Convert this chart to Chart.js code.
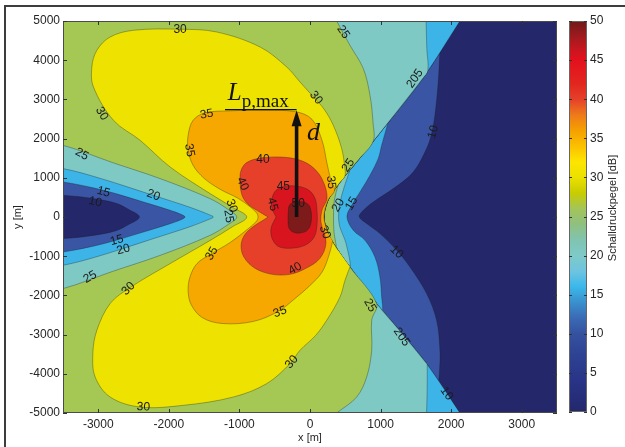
<!DOCTYPE html>
<html><head><meta charset="utf-8">
<script src="https://cdn.jsdelivr.net/npm/chart.js@4.4.1/dist/chart.umd.min.js"></script>
<style>
html,body{margin:0;padding:0;background:#fff;}
#wrap{position:relative;width:625px;height:447px;overflow:hidden;background:#fff;}
#frame{position:absolute;left:4px;top:5px;width:700px;height:500px;border-top:2px solid #3c3c3c;border-left:2px solid #3c3c3c;}
#main{position:absolute;left:0;top:0;width:625px;height:447px;}
#cbar{position:absolute;left:560px;top:0;width:65px;height:447px;}
</style></head><body>
<div id="wrap"><div id="frame"></div><canvas id="main" width="625" height="447"></canvas><canvas id="cbar" width="65" height="447"></canvas></div>
<script>
// ---------- ticks / ranges ----------
const xTicks=[-3000,-2000,-1000,0,1000,2000,3000];
const yTicks=[-5000,-4000,-3000,-2000,-1000,0,1000,2000,3000,4000,5000];
const cbTicks=[0,5,10,15,20,25,30,35,40,45,50];
const xRange=[-3500,3500], yRange=[-5000,5000], cbRange=[0,50];
// band colours: <10, 10-15, 15-20, 20-25, 25-30, 30-35, 35-40, 40-45, 45-50, >50
const bandColors=['#24286b','#3a55a3','#3cb4e8','#7ec9c4','#a4c853','#eee200','#f6a700','#e7402a','#d8151f','#7c1b1a'];
const cbStops=[[0,'#24286a'],[2,'#262e7a'],[4,'#293487'],[6,'#2c3c8e'],[8,'#2f4696'],[10,'#35529f'],[12,'#3a6ab4'],[14,'#3a8fcc'],[16,'#3ab8ea'],[18,'#6ec4e0'],[20,'#7fcac8'],[22,'#80c4b0'],[24,'#90c080'],[26,'#a3c45a'],[28,'#c8cc00'],[30,'#ebe000'],[32,'#fde500'],[34,'#fac000'],[36,'#f5a000'],[38,'#ee7a1a'],[40,'#e5402a'],[42,'#e2261f'],[45,'#e3101d'],[46,'#d0151f'],[48,'#a01a1e'],[50,'#6e1a1a']];

// ---------- shadow boundary (the V line), top -> bottom ----------
const V=[[2196,5200],[2124,5000],[1600,3541],[1076,2339],[680,1446],[425,885],[255,426],[198,0],[255,-416],[396,-850],[566,-1276],[944,-2209],[1274,-2908],[1652,-3740],[2124,-5000],[2199,-5200]];

// ---------- shadow-side contours (top meet -> bottom meet) ----------
const c10R=[[1840,4209],[1817,3444],[1770,2594],[1723,2128],[1652,1745],[1463,1148],[1180,724],[896,383],[732,128],[698,0],[803,-168],[991,-423],[1228,-849],[1416,-1276],[1652,-1954],[1794,-2635],[1841,-3400],[1836,-3900],[1812,-4166]];
const c15R=[[1105,2400],[1015,1829],[967,1490],[850,1064],[708,638],[590,298],[524,0],[613,-339],[779,-595],[920,-1020],[991,-1531],[1015,-2041],[1025,-2380]];
const c20R=[[565,1191],[480,740],[420,330],[405,0],[425,-263],[510,-671],[566,-1276]];
const c25R=[[397,809],[345,430],[333,0],[340,-390],[371,-798]];

// ---------- lit-side tongues on the left (lower edge -> tip -> upper edge) ----------
const c10L=[[-3500,-551],[-3068,-469],[-2737,-342],[-2549,-171],[-2450,-75],[-2417,0],[-2450,75],[-2549,171],[-2737,342],[-3068,469],[-3500,554]];
const c15L=[[-3500,-893],[-2927,-681],[-2360,-383],[-1982,-171],[-1830,-70],[-1770,0],[-1830,70],[-1982,171],[-2360,383],[-2927,681],[-3500,893]];
const c20L=[[-3500,-1232],[-2974,-987],[-2223,-554],[-1699,-247],[-1430,-60],[-1369,0],[-1430,60],[-1699,247],[-2223,554],[-2974,987],[-3500,1235]];
const c25L=[[-3500,-1827],[-2800,-1390],[-2124,-980],[-1416,-469],[-1150,-180],[-1038,0],[-1150,180],[-1416,469],[-2124,980],[-2800,1390],[-3500,1829]];
// lit-side contours meeting the V line
const c20Top=[[1640,5200],[1645,5000],[1655,4300],[1670,3735]];
const c20Bot=[[1660,-3760],[1660,-4400],[1652,-5000],[1650,-5200]];
const c25Top=[[317,5200],[378,5000],[566,4380],[755,3786],[850,3104],[893,2400],[895,1930]];
const c25Bot=[[944,-2209],[874,-2634],[874,-3400],[803,-4082],[661,-4592],[378,-5000],[240,-5200]];
const c30=[[566,-1276],[496,-1615],[425,-2041],[236,-2636],[80,-3020],[-142,-3400],[-283,-3740],[-613,-4250],[-1086,-4592],[-1794,-4804],[-2407,-4847],[-2832,-4592],[-3044,-4082],[-3077,-3485],[-3020,-2890],[-2832,-2209],[-2549,-1800],[-1982,-1189],[-1416,-599],[-1100,-250],[-896,0],[-1100,250],[-1416,597],[-1982,1276],[-2407,1957],[-2785,2467],[-3068,3316],[-3091,3826],[-3020,4252],[-2832,4592],[-2502,4763],[-1841,4790],[-1321,4719],[-708,4337],[-330,3827],[-142,3444],[60,3040],[200,2750],[330,2339],[449,1745],[490,1300],[495,1040]];
const c35=[[321,-620],[269,-977],[170,-1410],[0,-1747],[-212,-2079],[-453,-2410],[-807,-2666],[-1246,-2717],[-1529,-2564],[-1685,-2232],[-1727,-1875],[-1699,-1518],[-1600,-1186],[-1416,-957],[-1133,-651],[-870,-290],[-760,-110],[-736,0],[-760,110],[-850,260],[-1020,477],[-1274,707],[-1501,987],[-1657,1319],[-1727,1702],[-1727,2084],[-1657,2467],[-1487,2658],[-1133,2709],[-637,2722],[-198,2684],[28,2492],[170,1957],[241,1370],[297,936],[349,681]];
const c40=[[-595,0],[-708,120],[-878,324],[-963,554],[-991,885],[-977,1191],[-892,1395],[-680,1510],[-354,1523],[-99,1421],[85,1191],[198,860],[241,477],[170,171],[156,-135],[227,-645],[142,-1054],[-57,-1309],[-283,-1462],[-538,-1462],[-779,-1309],[-935,-1028],[-977,-722],[-920,-441],[-779,-212],[-666,-84]];
const c45=[[-481,0],[-538,222],[-538,477],[-481,681],[-354,783],[-170,783],[-14,681],[71,477],[99,171],[99,-212],[57,-518],[-71,-722],[-283,-798],[-453,-747],[-538,-543],[-552,-288]];
const c50=[[-312,18],[-283,324],[-113,388],[-14,298],[21,43],[0,-237],[-71,-378],[-212,-403],[-297,-288]];

// contour labels [text, x, y, rotation deg]
const contourLabels=[
 ['30',-1841,4781,0],['30',-2950,2638,60],['35',-1463,2620,-10],['35',-1709,1702,80],['25',-3233,1600,28],
 ['15',-2927,638,15],['10',-3044,383,12],['20',-2219,554,20],['30',-1112,286,70],['25',-1154,18,80],
 ['40',-666,1464,0],['40',-956,847,65],['45',-378,770,0],['45',-531,324,75],['50',-166,337,0],
 ['30',85,3041,50],['25',472,4719,55],['205',1487,3531,-55],['10',1746,2168,-75],['25',542,1319,-55],
 ['35',297,885,85],['20',401,298,-60],['15',590,342,-60],['30',212,-383,70],['10',1228,-893,45],
 ['25',850,-2253,60],['205',1298,-3061,55],['10',1936,-4505,55],['15',-2737,-594,-15],['20',-2644,-832,-15],
 ['25',-3115,-1531,-30],['30',-2573,-1827,-45],['35',-1392,-934,-60],['40',-212,-1316,-30],['35',-425,-2423,-20],
 ['30',-2360,-4847,3],['30',-259,-3699,-50]
];
// annotation anchors (data units)
const arrowPts=[[-190,0],[-190,2722]];
const lpLine=[[-1204,2740],[-190,2740]];
const lpLabel=[-1165,2977];
const lpSubLabel=[-967,2811];
const dLabel=[-42,1957];

// ---------- polygon assembly ----------
const X0=-3700, X1=3700, Y0=-5200, Y1=5200;
const vBetween=(hi,lo)=>V.filter(p=>p[1]<hi && p[1]>lo);
const closed=a=>a.concat([a[0]]);
const bgPoly=[[X0,Y1],[X1,Y1],[X1,Y0],[X0,Y0]];
const shadow=c=>c.concat(vBetween(c[0][1],c[c.length-1][1]).reverse());
const litFull=t=>[[X0,Y1]].concat(V,[[X0,Y0],[X0,t[0][1]]],t,[[X0,t[t.length-1][1]]]);
const litPart=(top,bot,t)=>[[X0,Y1]].concat(top,vBetween(top[top.length-1][1],bot[0][1]),bot,[[X0,Y0],[X0,t[0][1]]],t,[[X0,t[t.length-1][1]]]);
const inner=c=>c.concat(vBetween(c[c.length-1][1],c[0][1]));

const layers=[
 [bgPoly,0,0],
 [shadow(c10R),1],[shadow(c15R),2],[shadow(c20R),3],[shadow(c25R),4],
 [litFull(c10L),1],[litFull(c15L),2],
 [litPart(c20Top,c20Bot,c20L),3],[litPart(c25Top,c25Bot,c25L),4],
 [inner(c30),5],[inner(c35),6],
 [closed(c40),7],[closed(c45),8],[closed(c50),9]
];
const datasets=layers.map((L,i)=>({
  data:L[0].map(p=>({x:p[0],y:p[1]})),
  showLine:true, fill:'shape',
  backgroundColor:bandColors[L[1]],
  borderColor:'rgba(25,25,25,0.55)',
  borderWidth:(L[2]===undefined?0.6:L[2]),
  pointRadius:0, pointHoverRadius:0,
  tension:(i===0?0:0.35),
  order:layers.length-i
}));

Chart.defaults.font.family='"Liberation Sans", Arial, sans-serif';
Chart.defaults.font.size=12;
Chart.defaults.color='#262626';

const deco={
  id:'deco',
  afterDatasetsDraw(chart){
    const {ctx,chartArea:a,scales:{x:sx,y:sy}}=chart;
    const P=(p)=>[sx.getPixelForValue(p[0]),sy.getPixelForValue(p[1])];
    ctx.save();
    ctx.beginPath();ctx.rect(a.left,a.top,a.right-a.left,a.bottom-a.top);ctx.clip();
    ctx.fillStyle='#1b1b1b';
    ctx.font='12px "Liberation Sans", Arial, sans-serif';
    ctx.textAlign='center';ctx.textBaseline='middle';
    contourLabels.forEach(([t,vx,vy,ang])=>{
      const [px,py]=P([vx,vy]);
      ctx.save();ctx.translate(px,py);ctx.rotate(ang*Math.PI/180);ctx.fillText(t,0,0);ctx.restore();
    });
    // L_p,max bar
    ctx.strokeStyle='#111';ctx.lineWidth=1.4;
    let p0=P(lpLine[0]),p1=P(lpLine[1]);
    ctx.beginPath();ctx.moveTo(p0[0],p0[1]);ctx.lineTo(p1[0],p1[1]);ctx.stroke();
    // arrow
    const a0=P(arrowPts[0]),a1=P(arrowPts[1]);
    ctx.lineWidth=3.6;ctx.beginPath();ctx.moveTo(a0[0],a0[1]);ctx.lineTo(a1[0],a1[1]+12);ctx.stroke();
    ctx.fillStyle='#111';ctx.beginPath();ctx.moveTo(a1[0],a1[1]);ctx.lineTo(a1[0]-5,a1[1]+16);ctx.lineTo(a1[0]+5,a1[1]+16);ctx.closePath();ctx.fill();
    ctx.textAlign='left';ctx.textBaseline='alphabetic';
    let q=P(lpLabel);ctx.font='italic 25px "Liberation Serif", serif';ctx.fillText('L',q[0],q[1]);
    q=P(lpSubLabel);ctx.font='19px "Liberation Serif", serif';ctx.fillText('p,max',q[0],q[1]);
    q=P(dLabel);ctx.font='italic 26px "Liberation Serif", serif';ctx.fillText('d',q[0],q[1]);
    ctx.restore();
  },
  afterDraw(chart){
    const {ctx,chartArea:a,scales:{x:sx,y:sy}}=chart;
    ctx.save();
    ctx.strokeStyle='#4a4a4a';ctx.lineWidth=1;
    ctx.strokeRect(a.left+0.5,a.top+0.5,a.right-a.left-1,a.bottom-a.top-1);
    ctx.strokeStyle='#333';
    ctx.beginPath();
    xTicks.forEach(v=>{const px=Math.round(sx.getPixelForValue(v))+0.5;ctx.moveTo(px,a.bottom);ctx.lineTo(px,a.bottom-4);ctx.moveTo(px,a.top);ctx.lineTo(px,a.top+4);});
    yTicks.forEach(v=>{const py=Math.round(sy.getPixelForValue(v))+0.5;ctx.moveTo(a.left,py);ctx.lineTo(a.left+4,py);ctx.moveTo(a.right,py);ctx.lineTo(a.right-4,py);});
    ctx.stroke();
    ctx.fillStyle='#262626';ctx.font='11px "Liberation Sans", Arial, sans-serif';
    ctx.textAlign='center';ctx.textBaseline='middle';
    ctx.fillText('x [m]',(a.left+a.right)/2,437.5);
    ctx.save();ctx.translate(18,(a.top+a.bottom)/2);ctx.rotate(-Math.PI/2);ctx.fillText('y [m]',0,0);ctx.restore();
    ctx.restore();
  }
};

new Chart(document.getElementById('main'),{
  type:'scatter',
  data:{datasets},
  options:{
    responsive:false,animation:false,devicePixelRatio:1,events:[],
    layout:{padding:{left:0,right:68,top:21,bottom:0}},
    plugins:{legend:{display:false},tooltip:{enabled:false}},
    scales:{
      x:{type:'linear',min:xRange[0],max:xRange[1],
         afterBuildTicks:s=>{s.ticks=xTicks.map(v=>({value:v}));},
         afterFit:s=>{s.height=34;},
         ticks:{padding:4,maxRotation:0,autoSkip:false,callback:v=>String(v),font:{size:12}},
         grid:{display:false,drawTicks:false},border:{display:false}},
      y:{type:'linear',min:yRange[0],max:yRange[1],
         afterBuildTicks:s=>{s.ticks=yTicks.map(v=>({value:v}));},
         afterFit:s=>{s.width=63;},
         ticks:{padding:3,autoSkip:false,callback:v=>String(v),font:{size:12}},
         grid:{display:false,drawTicks:false},border:{display:false}}
    }
  },
  plugins:[deco]
});

// ---------- colorbar ----------
const cbDeco={
  id:'cbDeco',
  afterDraw(chart){
    const {ctx,chartArea:a,scales:{y:sy}}=chart;
    ctx.save();
    ctx.strokeStyle='#666';ctx.lineWidth=1;
    ctx.strokeRect(a.left+0.5,a.top+0.5,a.right-a.left-1,a.bottom-a.top-1);
    ctx.strokeStyle='#333';ctx.beginPath();
    cbTicks.forEach(v=>{const py=Math.round(sy.getPixelForValue(v))+0.5;ctx.moveTo(a.left,py);ctx.lineTo(a.left+3,py);ctx.moveTo(a.right,py);ctx.lineTo(a.right-3,py);});
    ctx.stroke();
    ctx.fillStyle='#262626';ctx.font='11px "Liberation Sans", Arial, sans-serif';
    ctx.textAlign='center';ctx.textBaseline='middle';
    ctx.translate(53,208);ctx.rotate(-Math.PI/2);ctx.fillText('Schalldruckpegel [dB]',0,0);
    ctx.restore();
  }
};
new Chart(document.getElementById('cbar'),{
  type:'bar',
  data:{labels:[''],datasets:[{
    data:[[cbRange[0],cbRange[1]]],
    barPercentage:1,categoryPercentage:1,borderWidth:0,
    backgroundColor:(c)=>{
      const ch=c.chart;const s=ch.scales&&ch.scales.y;
      if(!ch.chartArea||!s) return '#888';
      const g=ch.ctx.createLinearGradient(0,s.getPixelForValue(cbRange[0]),0,s.getPixelForValue(cbRange[1]));
      cbStops.forEach(([v,col])=>g.addColorStop((v-cbRange[0])/(cbRange[1]-cbRange[0]),col));
      return g;
    }
  }]},
  options:{
    responsive:false,animation:false,devicePixelRatio:1,events:[],
    layout:{padding:{left:9,right:0,top:21,bottom:35}},
    plugins:{legend:{display:false},tooltip:{enabled:false}},
    scales:{
      x:{display:false},
      y:{position:'right',min:cbRange[0],max:cbRange[1],
         afterBuildTicks:s=>{s.ticks=cbTicks.map(v=>({value:v}));},
         afterFit:s=>{s.width=38;},
         ticks:{padding:3,autoSkip:false,callback:v=>String(v),font:{size:12}},
         grid:{display:false,drawTicks:false},border:{display:false}}
    }
  },
  plugins:[cbDeco]
});
</script></body></html>
